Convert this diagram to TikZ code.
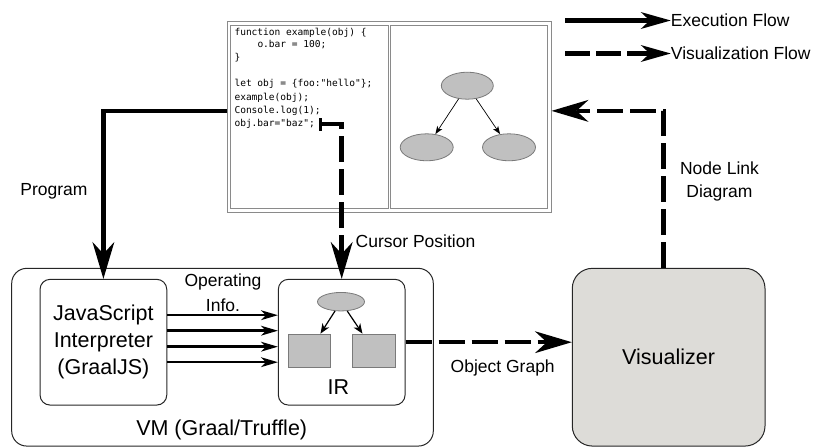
\documentclass[tikz,border=0pt]{standalone}
\usepackage{fontspec}
\setmainfont{Liberation Sans}
\newfontfamily\codefont{DejaVu Sans Mono}
\usetikzlibrary{arrows.meta,calc,shapes.geometric}

\definecolor{framegray}{HTML}{8A8A8A}
\definecolor{shapefill}{HTML}{C0C0C0}
\definecolor{shapeline}{HTML}{7A7A7A}
\definecolor{visfill}{HTML}{DDDCD8}

\tikzset{
  bigtip/.tip={Stealth[length=37pt,width=22pt,inset=12pt,line width=0pt]},
  legtip/.tip={Stealth[length=30pt,width=17pt,inset=9pt,line width=0pt]},
  optip/.tip={Stealth[length=17pt,width=10pt,inset=5pt,line width=0pt]},
  smalltip/.tip={Stealth[length=8pt,width=6pt,inset=2pt,line width=0pt]},
  midtip/.tip={Stealth[length=10pt,width=8pt,inset=3pt,line width=0pt]},
  flow/.style={line width=4.5pt},
  vizflow/.style={line width=4.5pt, dash pattern=on 26pt off 7pt},
  opflow/.style={line width=2.5pt, -optip},
  pane/.style={draw=framegray, line width=1pt, inner sep=0pt},
  codeline/.style={font=\codefont\fontsize{9.55}{11}\selectfont, anchor=base west, inner sep=0pt},
  blob/.style={ellipse, draw=shapeline, fill=shapefill, line width=0.8pt, inner sep=0pt},
  block/.style={rectangle, draw=shapeline, fill=shapefill, line width=0.8pt, inner sep=0pt},
  box/.style={draw=black!85, line width=1pt, inner sep=0pt, align=center},
  smalltext/.style={font=\fontsize{17.5}{21}\selectfont, inner sep=0pt},
  bigtext/.style={font=\fontsize{21.5}{27}\selectfont, inner sep=0pt, align=center},
}

\begin{document}
\begin{tikzpicture}[x=1pt,y=-1pt]
\useasboundingbox (0,0) rectangle (817,447);

% editor window: code pane and graph pane
\node[pane, minimum width=323.7pt, minimum height=190.7pt] (editor) at (389.2,116.7) {};
\node[pane, minimum width=157.3pt, minimum height=183.5pt] (codepane) at (309.4,116.75) {};
\node[pane, minimum width=157.5pt, minimum height=183.5pt] (graphpane) at (468.75,116.75) {};

\node[codeline] (c1) at (234.3,35.2) {function example(obj) \{};
\node[codeline] (c2) at (234.3,47.5) {\phantom{0000}o.bar = 100;};
\node[codeline] (c3) at (234.3,60.8) {\}};
\node[codeline] (c4) at (234.3,86.8) {let obj = \{foo:"hello"\};};
\node[codeline] (c5) at (234.3,100.2) {example(obj);};
\node[codeline] (c6) at (234.3,113.5) {Console.log(1);};
\node[codeline] (c7) at (234.3,126.8) {obj.bar="baz";};
\coordinate (cursor) at ([xshift=3.9pt]c7.east);

% node link diagram in the graph pane
\node[blob, minimum width=52pt, minimum height=27pt] (t0) at (467.3,85.7) {};
\node[blob, minimum width=53pt, minimum height=27pt] (t1) at (426.7,147.3) {};
\node[blob, minimum width=53pt, minimum height=27pt] (t2) at (509,147.3) {};
\draw[line width=0.7pt, -smalltip] (t0) -- (t1);
\draw[line width=0.7pt, -smalltip] (t0) -- (t2);

% VM with interpreter and IR
\node[box, rounded corners=15pt, minimum width=421.6pt, minimum height=177.7pt] (vm) at (222.5,357.2) {};
\node[box, bigtext, draw=black!85, rounded corners=10pt, minimum width=126.7pt, minimum height=125.7pt] (js) at (103.4,342.2) {JavaScript\\Interpreter\\(GraalJS)};
\node[box, rounded corners=10pt, minimum width=126.7pt, minimum height=125.7pt] (ir) at (341.7,342.2) {};
\node[bigtext] (irlabel) at (338.3,386.7) {IR};
\node[blob, minimum width=47pt, minimum height=18.5pt] (m0) at (341,301.7) {};
\node[block, minimum width=42.4pt, minimum height=33.3pt] (m1) at (309.5,350.7) {};
\node[block, minimum width=42.4pt, minimum height=33.3pt] (m2) at (373.9,350.7) {};
\draw[line width=1.2pt, -midtip] (m0) -- (m1);
\draw[line width=1.2pt, -midtip] (m0) -- (m2);
\node[bigtext] (vmlabel) at (221.7,430) {VM (Graal/Truffle)};

% visualizer
\node[box, bigtext, fill=visfill, rounded corners=20pt, minimum width=192.7pt, minimum height=177.7pt] (vis) at (668.65,357.2) {Visualizer};

% connectors
\draw[flow, -bigtip] (editor.west |- c6.east) -| (js.north);
\draw[vizflow, {Bar[width=13pt,line width=2.5pt]}-bigtip] (cursor) -| (ir.north);
\foreach \s in {27,11.5,-4.5,-20}
  \draw[opflow] ([yshift=\s pt]js.east) -- ([yshift=\s pt]ir.west);
\draw[vizflow, -bigtip] (ir.east) -- (vis.west |- ir.east);
\draw[vizflow, -bigtip] ([xshift=-5pt]vis.north) |- (editor.east |- c6.east);

% connector labels
\node[smalltext] (lprog) at (54,191.7) {Program};
\node[smalltext, anchor=west] (lcur) at (355.5,241.7) {Cursor Position};
\node[smalltext, align=center, font=\fontsize{17.5}{25}\selectfont] (lop) at (223,292.5) {Operating\\Info.};
\node[smalltext] (lobj) at (502.7,368.3) {Object Graph};
\node[smalltext, align=center, font=\fontsize{17.5}{23}\selectfont] (lnode) at (719.5,181.7) {Node Link\\Diagram};

% legend
\node[smalltext, anchor=west] (lexec) at (670.7,20.5) {Execution Flow};
\node[smalltext, anchor=west] (lviz) at (670.7,53.5) {Visualization Flow};
\coordinate (lexecstart) at (565,20.5);
\coordinate (lvizstart) at (565,53.5);
\draw[flow, -legtip] (lexecstart) -- (lexec.west);
\draw[line width=4.5pt, dash pattern=on 25pt off 6pt, -legtip] (lvizstart) -- (lviz.west);
\end{tikzpicture}
\end{document}
